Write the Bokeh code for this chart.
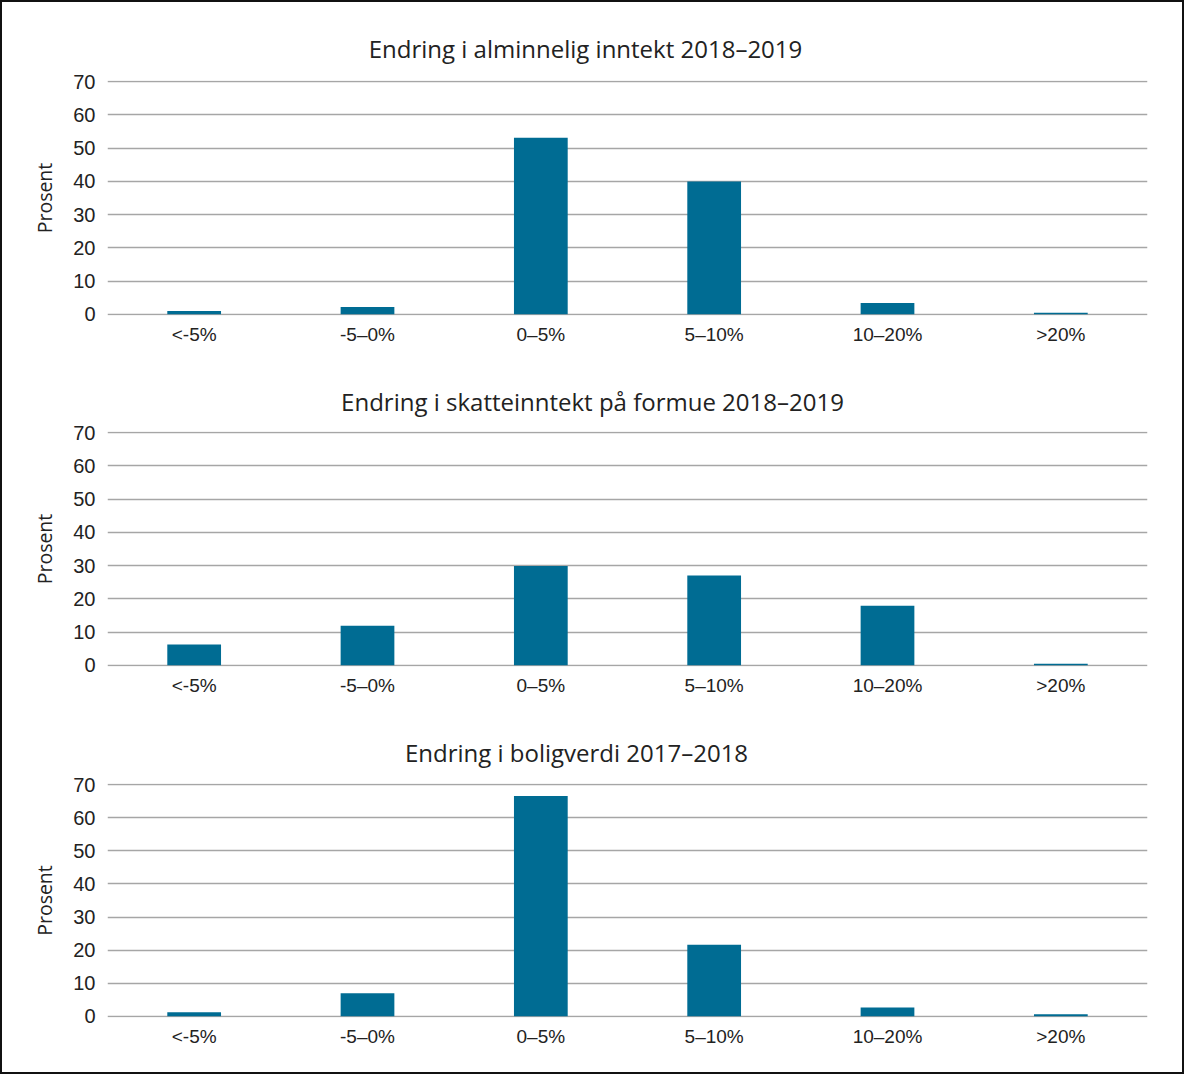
from bokeh.plotting import figure
from bokeh.layouts import column
from bokeh.models import Range1d, FixedTicker
from bokeh.core.properties import value
from bokeh.embed import file_html
from bokeh.resources import INLINE

categories = ["<-5%", "-5–0%", "0–5%", "5–10%", "10–20%", ">20%"]

titles = [
    "Endring i alminnelig inntekt 2018–2019",
    "Endring i skatteinntekt på formue 2018–2019",
    "Endring i boligverdi 2017–2018",
]

inntekt = [1.0, 2.2, 53.1, 40.0, 3.4, 0.5]
formue = [6.3, 11.9, 29.9, 27.0, 17.9, 0.5]
boligverdi = [1.2, 7.0, 66.6, 21.6, 2.7, 0.6]

series = [inntekt, formue, boligverdi]
y_ticks = [0, 10, 20, 30, 40, 50, 60, 70]

BAR = "#006c93"
GRID = "#a6a6a6"
TEXT = "#222222"

W = 1180
LEFT, RIGHT = 105, 35
STRIP_H = 68
chart_heights = [283, 284, 299]
chart_bottoms = [38, 39, 55]
title_x = [583, 590, 574]
title_y = [21.9, 20.2, 20.8]

items = []
for i, (t, vals) in enumerate(zip(titles, series)):
    # title strip: its frame is aligned with the chart frame by the column,
    # so map the range so that one unit = one pixel of the figure width
    s = figure(
        x_range=Range1d(LEFT, W - RIGHT), y_range=Range1d(0, STRIP_H),
        width=W, height=STRIP_H,
        x_axis_type=None, y_axis_type=None,
        output_backend="svg", toolbar_location=None,
        min_border=0, min_border_left=LEFT, min_border_right=RIGHT,
    )
    s.outline_line_color = None
    s.grid.grid_line_color = None
    s.text(x=[title_x[i]], y=[title_y[i]], text=[t],
           text_align="center", text_baseline="alphabetic",
           text_font=value("Open Sans"), text_font_size="24px",
           text_color=TEXT)
    items.append(s)

    p = figure(
        x_range=categories,
        y_range=Range1d(-0.35, 70.35),
        width=W,
        height=chart_heights[i],
        output_backend="svg",
        toolbar_location=None,
        min_border_left=LEFT,
        min_border_right=RIGHT,
        min_border_top=10,
        min_border_bottom=chart_bottoms[i],
    )
    p.vbar(x=categories, top=vals, width=0.31, color=BAR, line_color=None)
    p.outline_line_color = None
    p.background_fill_color = "white"
    p.border_fill_color = "white"

    p.xgrid.grid_line_color = None
    p.ygrid.grid_line_color = GRID
    p.ygrid.grid_line_width = 1.5
    p.yaxis.ticker = FixedTicker(ticks=y_ticks)
    p.yaxis.axis_line_color = None
    p.yaxis.major_tick_line_color = None
    p.yaxis.minor_tick_line_color = None
    p.yaxis.major_label_standoff = 6
    p.yaxis.major_label_text_font = "Liberation Sans"
    p.yaxis.major_label_text_font_size = "20px"
    p.yaxis.major_label_text_color = TEXT
    p.yaxis.axis_label = "Prosent"
    p.yaxis.axis_label_text_font = "Open Sans"
    p.yaxis.axis_label_text_font_size = "19.5px"
    p.yaxis.axis_label_text_font_style = "normal"
    p.yaxis.axis_label_text_color = TEXT
    p.yaxis.axis_label_standoff = 12

    p.xaxis.axis_line_color = None
    p.xaxis.major_tick_line_color = None
    p.xaxis.minor_tick_line_color = None
    p.xaxis.major_label_standoff = 2
    p.xaxis.major_label_text_font = "Liberation Sans"
    p.xaxis.major_label_text_font_size = "19px"
    p.xaxis.major_label_text_color = TEXT
    items.append(p)

layout = column(*items, spacing=0, styles={"border": "2px solid #111111"})
open("out.html", "w").write(file_html(layout, INLINE))
